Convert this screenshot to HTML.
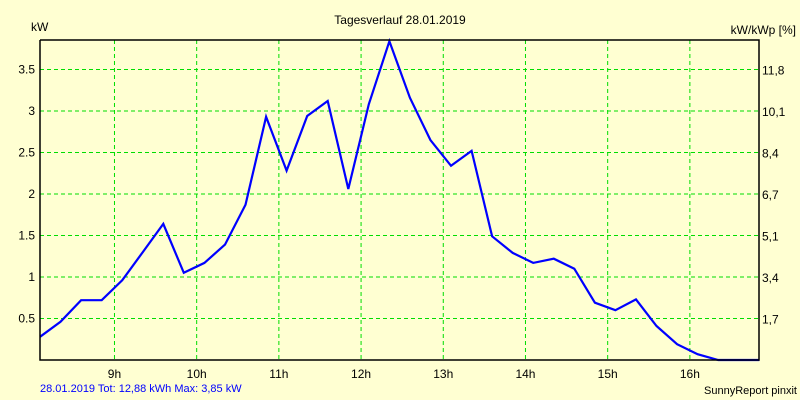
<!DOCTYPE html>
<html><head><meta charset="utf-8"><style>
html,body{margin:0;padding:0;background:#ffffd2;}
svg{display:block;font-family:"Liberation Sans",sans-serif;}
</style></head><body>
<svg id="chart" width="800" height="400">
<rect x="0" y="0" width="800" height="400" fill="#ffffd2"/>
<text x="400" y="24" font-size="12" text-anchor="middle">Tagesverlauf 28.01.2019</text>
<text x="31" y="31" font-size="12">kW</text>
<text x="796" y="34" font-size="12" text-anchor="end">kW/kWp [%]</text>
<g id="grid"></g>
<g id="ticks"></g>
<polyline id="line" fill="none" stroke="#0000ff" stroke-width="2.2" stroke-linejoin="miter"/>
<path d="M40 40 V360 H759 V40 H40" fill="none" stroke="#000" stroke-width="1.5"/>
<text x="40" y="392" font-size="11" fill="#0000ff">28.01.2019 Tot: 12,88 kWh Max: 3,85 kW</text>
<text x="797" y="394" font-size="11" text-anchor="end">SunnyReport pinxit</text>
</svg>
<script>
const power = [0.28,0.46,0.72,0.72,0.96,1.30,1.64,1.05,1.17,1.39,1.87,2.93,2.28,2.94,3.12,2.06,3.08,3.84,3.16,2.65,2.34,2.52,1.49,1.29,1.17,1.22,1.10,0.69,0.60,0.73,0.41,0.19,0.07,0.0,0.0,0.0];
const leftTicks = [0.5,1,1.5,2,2.5,3,3.5];
const leftLabels = ["0.5","1","1.5","2","2.5","3","3.5"];
const rightLabels = ["1,7","3,4","5,1","6,7","8,4","10,1","11,8"];
const hourTicks = [9,10,11,12,13,14,15,16];
const hourLabels = ["9h","10h","11h","12h","13h","14h","15h","16h"];
const startHour = 8.094, stepHours = 0.25;

const X0=40,X1=759,Y0=40,Y1=360,yMax=3.855;
const xHour = h => X0 + (h - 8.094) * 82.2;
const xIdx = i => xHour(startHour + i*stepHours);
const y = v => Y1 - v/yMax*(Y1-Y0);
const NS="http://www.w3.org/2000/svg";
const grid=document.getElementById('grid'), ticks=document.getElementById('ticks');
function mk(tag,attrs,parent){const e=document.createElementNS(NS,tag);for(const k in attrs)e.setAttribute(k,attrs[k]);parent.appendChild(e);return e;}
leftTicks.forEach((v,i)=>{
  const l=mk('line',{x1:X0,x2:X1,y1:y(v),y2:y(v),stroke:'#00dd00','stroke-dasharray':'4,3','stroke-width':1},grid);
  
  
  const t=mk('text',{x:35,y:y(v)+4,'font-size':12,'text-anchor':'end'},ticks);
  t.textContent=leftLabels[i];
  
  
  const r=mk('text',{x:762,y:y(v)+5,'font-size':12},ticks);
  r.textContent=rightLabels[i];
  
  
});
hourTicks.forEach((h,i)=>{
  const x=xHour(h);
  const l=mk('line',{x1:x,x2:x,y1:Y0,y2:Y1,stroke:'#00dd00','stroke-dasharray':'4,3','stroke-width':1},grid);
  
  
  const t=mk('text',{x:x,y:378,'font-size':12,'text-anchor':'middle'},ticks);
  t.textContent=hourLabels[i];
  
  
});
document.getElementById('line').setAttribute('points',power.map((v,i)=>xIdx(i).toFixed(1)+','+y(v).toFixed(1)).join(' '));
</script>
</body></html>
